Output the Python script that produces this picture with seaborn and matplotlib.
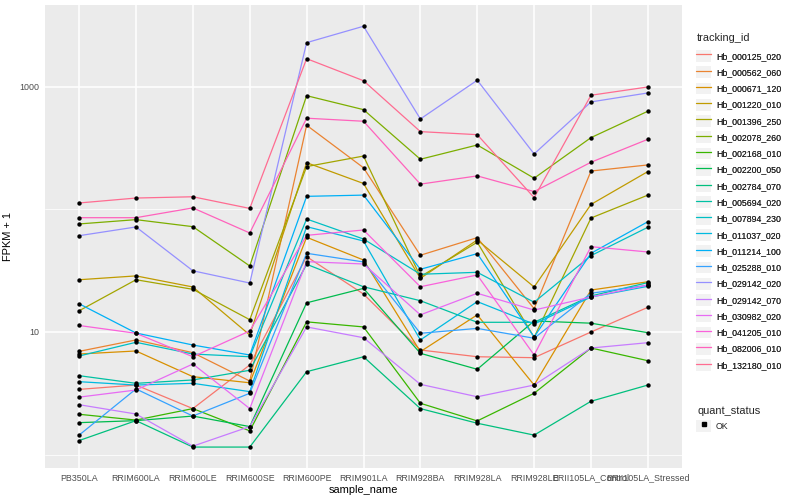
import pandas as pd
import seaborn as sns
import matplotlib.pyplot as plt
from matplotlib.lines import Line2D
from matplotlib.patches import Rectangle
from matplotlib.legend_handler import HandlerLine2D

# categories on the x axis
sample_names = ["PB350LA", "RRIM600LA", "RRIM600LE", "RRIM600SE", "RRIM600PE", "RRIM901LA",
                "RRIM928BA", "RRIM928LA", "RRIM928LE", "BRII105LA_Control", "BRII105LA_Stressed"]

tracking_ids = ["Hb_000125_020", "Hb_000562_060", "Hb_000671_120", "Hb_001220_010", "Hb_001396_250",
                "Hb_002078_260", "Hb_002168_010", "Hb_002200_050", "Hb_002784_070", "Hb_005694_020",
                "Hb_007894_230", "Hb_011037_020", "Hb_011214_100", "Hb_025288_010", "Hb_029142_020",
                "Hb_029142_070", "Hb_030982_020", "Hb_041205_010", "Hb_082006_010", "Hb_132180_010"]

# FPKM + 1 per gene, one value per sample
hb_000125_020 = [3.40, 3.69, 2.37, 5.38, 41.2, 20.4, 7.13, 6.28, 6.17, 10.0, 15.9]
hb_000562_060 = [6.95, 8.61, 6.78, 3.98, 487, 219, 42.3, 58.9, 15.5, 206, 231]
hb_000671_120 = [6.61, 7.00, 4.32, 3.85, 59.3, 38.7, 6.91, 13.8, 3.69, 22.0, 25.7]
hb_001220_010 = [26.7, 28.7, 23.3, 9.46, 241, 163, 27.4, 56.4, 23.3, 110, 204]
hb_001396_250 = [14.9, 26.7, 22.3, 12.6, 224, 273, 28.3, 54.0, 9.05, 85.2, 131]
hb_002078_260 = [76.2, 82.6, 72.4, 34.6, 849, 653, 257, 336, 180, 386, 634]
hb_002168_010 = [2.13, 1.91, 2.37, 1.56, 12.1, 11.0, 2.62, 1.88, 3.16, 7.40, 5.83]
hb_002200_050 = [1.82, 1.89, 2.06, 1.69, 17.3, 22.7, 6.70, 4.96, 12.3, 11.8, 9.87]
hb_002784_070 = [1.30, 1.89, 1.15, 1.15, 4.74, 6.28, 2.37, 1.80, 1.44, 2.72, 3.69]
hb_005694_020 = [4.40, 3.81, 4.06, 4.87, 35.7, 23.4, 18.0, 12.0, 12.0, 19.7, 25.3]
hb_007894_230 = [6.37, 8.24, 6.61, 6.28, 83.6, 57.4, 29.6, 30.7, 17.5, 42.0, 71.6]
hb_011037_020 = [3.93, 3.69, 3.81, 3.26, 72.4, 55.3, 8.61, 17.7, 11.6, 19.3, 23.6]
hb_011214_100 = [17.0, 9.81, 7.83, 6.49, 128, 131, 32.5, 43.6, 9.11, 43.9, 79.5]
hb_025288_010 = [1.44, 3.43, 2.06, 3.16, 43.9, 37.3, 9.76, 10.7, 8.89, 20.7, 24.1]
hb_029142_020 = [61.1, 72.0, 31.6, 25.1, 2300, 3130, 548, 1135, 284, 755, 894]
hb_029142_070 = [2.55, 2.14, 1.17, 1.69, 11.0, 8.98, 3.74, 2.96, 3.69, 7.40, 8.18]
hb_030982_020 = [2.94, 3.36, 5.48, 2.37, 37.5, 35.9, 13.8, 20.7, 15.1, 19.3, 24.2]
hb_041205_010 = [11.3, 9.76, 6.28, 10.2, 61.5, 68.0, 23.4, 29.2, 6.49, 49.7, 45.0]
hb_082006_010 = [85.7, 85.7, 103, 64.3, 556, 525, 161, 188, 140, 243, 374]
hb_132180_010 = [113, 124, 127, 102, 1702, 1125, 432, 408, 125, 856, 1000]

fpkm = [hb_000125_020, hb_000562_060, hb_000671_120, hb_001220_010, hb_001396_250,
        hb_002078_260, hb_002168_010, hb_002200_050, hb_002784_070, hb_005694_020,
        hb_007894_230, hb_011037_020, hb_011214_100, hb_025288_010, hb_029142_020,
        hb_029142_070, hb_030982_020, hb_041205_010, hb_082006_010, hb_132180_010]

# ggplot2 default hue palette for 20 levels
gg_colors = ["#F8766D", "#EA8331", "#D89000", "#C09B00", "#A3A500", "#7CAE00", "#39B600",
             "#00BB4E", "#00BF7D", "#00C1A3", "#00BFC4", "#00BAE0", "#00B0F6", "#35A2FF",
             "#9590FF", "#C77CFF", "#E76BF3", "#FA62DB", "#FF62BC", "#FF6C91"]


class KeyHandler(HandlerLine2D):
    # legend key with the grey ggplot background square
    def create_artists(self, legend, orig_handle, xdescent, ydescent, width, height, fontsize, trans):
        arts = super().create_artists(legend, orig_handle, xdescent, ydescent, width, height, fontsize, trans)
        bg = Rectangle((-xdescent, -ydescent), width, height, facecolor="#F2F2F2", edgecolor="none",
                       transform=trans)
        return [bg] + arts


rows = []
for tid, vals in zip(tracking_ids, fpkm):
    for i, (s, v) in enumerate(zip(sample_names, vals)):
        rows.append((tid, s, i, v, "OK"))
df = pd.DataFrame(rows, columns=["tracking_id", "sample_name", "x", "FPKM", "quant_status"])

sns.set_style("darkgrid")
plt.rcParams["font.family"] = ["Liberation Sans", "DejaVu Sans"]

fig = plt.figure(figsize=(8, 5), dpi=100)
ax = fig.add_axes([45 / 800, 32 / 500, 637 / 800, 463 / 500])
ax.set_facecolor("#EBEBEB")

sns.lineplot(data=df, x="x", y="FPKM", hue="tracking_id", hue_order=tracking_ids, palette=gg_colors,
             estimator=None, sort=False, lw=0.9, legend=False, ax=ax, zorder=2)
sns.scatterplot(data=df, x="x", y="FPKM", color="black", s=10, linewidth=0, legend=False, ax=ax, zorder=3)

ax.set_yscale("log")
ax.set_ylim(0.776, 4667)
ax.set_xlim(-0.6, len(sample_names) - 1 + 0.6)
ax.set_yticks([10, 1000])
ax.set_yticklabels(["10", "1000"])
ax.set_yticks([1, 100], minor=True)
ax.set_yticklabels([], minor=True)
ax.set_xticks(range(len(sample_names)))
ax.set_xticklabels(sample_names)

ax.grid(False)
ax.grid(True, which="major", color="white", lw=1.1, zorder=0)
ax.grid(True, which="minor", axis="y", color="white", lw=0.55, zorder=0)
ax.set_axisbelow(True)
for sp in ax.spines.values():
    sp.set_visible(False)
ax.tick_params(axis="both", which="major", length=2.5, width=0.8, color="#333333",
               labelsize=6.4, labelcolor="#4D4D4D", pad=1.5)
ax.tick_params(axis="y", which="minor", length=0)

ax.set_xlabel("sample_name", fontsize=7.9, color="black", labelpad=2)
ax.set_ylabel("FPKM + 1", fontsize=7.9, color="black")
ax.yaxis.set_label_coords(-(45 - 13) / 637, 0.5)

# legends in ggplot style, titles placed as separate texts
leg_kw = dict(loc="upper left", frameon=False, fontsize=6.3, handlelength=1.75, handleheight=1.7,
              handletextpad=0.55, labelspacing=0.51, borderaxespad=0, borderpad=0,
              handler_map={Line2D: KeyHandler()})

fig.text(697 / 800, 1 - 38 / 500, "tracking_id", fontsize=7.9, va="center", ha="left")
handles = [Line2D([], [], color=c, lw=0.9) for c in gg_colors]
leg1 = fig.legend(handles, tracking_ids, bbox_to_anchor=(696 / 800, 1 - 50 / 500), **leg_kw)
fig.add_artist(leg1)

fig.text(697 / 800, 1 - 411 / 500, "quant_status", fontsize=7.9, va="center", ha="left")
pt = [Line2D([], [], color="black", marker="s", markersize=2.5, lw=0)]
fig.legend(pt, ["OK"], bbox_to_anchor=(696 / 800, 1 - 420 / 500), **leg_kw)

fig.savefig("out.png", dpi=100)
